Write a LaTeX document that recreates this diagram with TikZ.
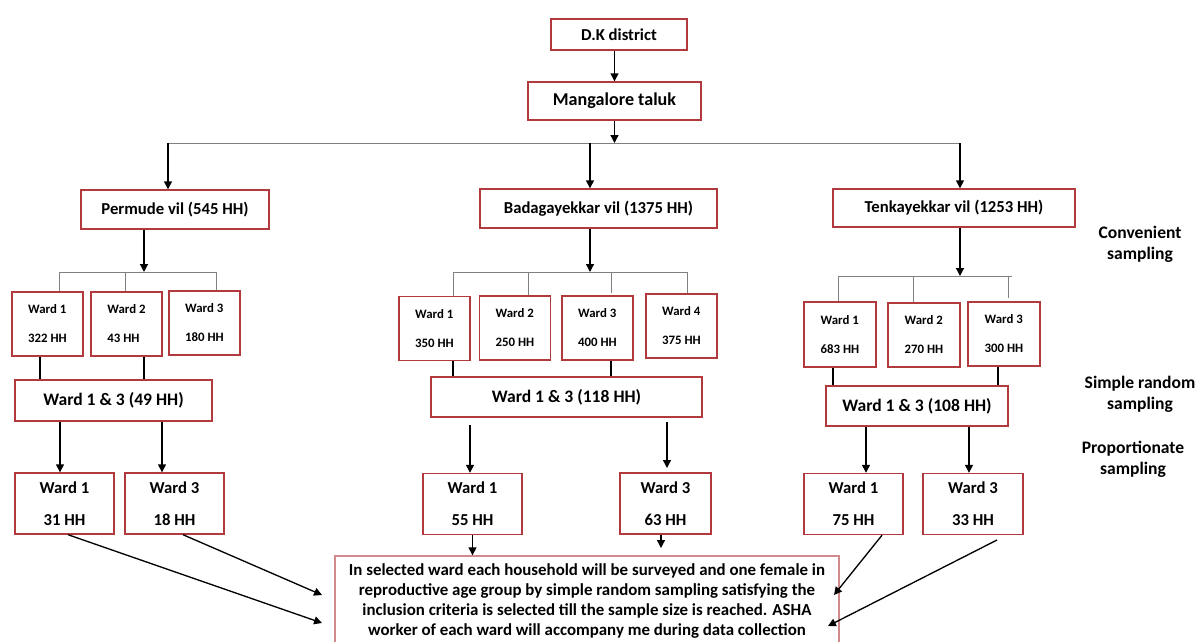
\documentclass[tikz,border=0pt]{standalone}
\usepackage{fontspec}
\setmainfont{Carlito}
\usetikzlibrary{arrows.meta}
\definecolor{boxred}{RGB}{178,58,62}
\begin{document}
\begin{tikzpicture}[x=0.02cm,y=-0.02cm,
  box/.style={draw=boxred,line width=0.8pt,inner sep=0pt,font=\bfseries\fontsize{9.5}{11}\selectfont,align=center},
  wardbox/.style={box,minimum width=1.42cm,minimum height=1.28cm,align=left,font=\bfseries\fontsize{7.3}{8.5}\selectfont},
  pickbox/.style={box,minimum width=1.98cm,minimum height=1.22cm},
  arr/.style={-{Triangle[length=4.5pt,width=4.5pt]},line width=0.75pt},
  bline/.style={line width=0.75pt},
  gline/.style={gray,line width=0.5pt},
  sidelabel/.style={font=\bfseries\fontsize{10}{12}\selectfont,align=center}]
\useasboundingbox (0,0) rectangle (1198,642);
% top
\node[box,minimum width=2.72cm,minimum height=0.62cm] (dk) at (619,34.5) {D.K district};
\node[box,minimum width=3.46cm,minimum height=0.76cm,font=\bfseries\fontsize{10.3}{12}\selectfont] (taluk) at (614.5,101) {Mangalore taluk};
\node[box,minimum width=3.76cm,minimum height=0.78cm] (permude) at (175,209.5) {Permude vil (545 HH)};
\node[box,minimum width=4.74cm,minimum height=0.78cm] (badaga) at (598.5,208.5) {Badagayekkar vil (1375 HH)};
\node[box,minimum width=4.84cm,minimum height=0.76cm] (tenka) at (954,208) {Tenkayekkar vil (1253 HH)};
\coordinate (hl) at (168,143);
\coordinate (hm) at (590,143);
\coordinate (hr) at (960,143);
\draw[arr] (dk.south -| taluk.north) -- (taluk.north);
\draw[arr] (taluk.south) -- (taluk.south |- hm);
\draw[gline] (hl) -- (hr);
\draw[arr] (hl) -- (hl |- permude.north);
\draw[arr] (hm) -- (hm |- badaga.north);
\draw[arr] (hr) -- (hr |- tenka.north);
% Permude
\node[wardbox] (pw1) at (47.5,324) {Ward 1\\[8pt]322 HH};
\node[wardbox] (pw2) at (126.5,324) {Ward 2\\[8pt]43 HH};
\node[wardbox] (pw3) at (204.5,323) {Ward 3\\[8pt]180 HH};
\node[box,minimum width=3.94cm,minimum height=0.82cm,font=\bfseries\fontsize{10}{12}\selectfont] (pm) at (113.5,400.5) {Ward 1 \& 3 (49 HH)};
\node[pickbox] (ps1) at (64.5,503.5) {Ward 1\\[7pt]31 HH};
\node[pickbox] (ps3) at (174.5,503.5) {Ward 3\\[7pt]18 HH};
\coordinate (pb) at (144,272);
\draw[arr] (pb |- permude.south) -- (pb);
\draw[gline] (59,0 |- pw1.north) |- (216,272) -- (216,0 |- pw3.north);
\draw[gline] (125,272) -- (125,0 |- pw2.north);
\draw[bline] (40,0 |- pw1.south) -- (40,0 |- pm.north);
\draw[bline] (144,0 |- pw2.south) -- (144,0 |- pm.north);
\draw[arr] (60,0 |- pm.south) -- (60,0 |- ps1.north);
\draw[arr] (162,0 |- pm.south) -- (162,0 |- ps3.north);
% Badagayekkar
\node[wardbox] (bw1) at (434.5,328.5) {Ward 1\\[8pt]350 HH};
\node[wardbox] (bw2) at (515,328) {Ward 2\\[8pt]250 HH};
\node[wardbox] (bw3) at (597.5,328) {Ward 3\\[8pt]400 HH};
\node[wardbox] (bw4) at (681.5,326) {Ward 4\\[8pt]375 HH};
\node[box,minimum width=5.42cm,minimum height=0.8cm,font=\bfseries\fontsize{10}{12}\selectfont] (bm) at (566.5,397) {Ward 1 \& 3 (118 HH)};
\node[pickbox] (bs1) at (472.5,504) {Ward 1\\[7pt]55 HH};
\node[pickbox,minimum width=1.82cm] (bs3) at (665.5,503.5) {Ward 3\\[7pt]63 HH};
\coordinate (bb) at (590,272);
\draw[arr] (bb |- badaga.south) -- (bb);
\draw[gline] (453,0 |- bw1.north) |- (687,272) -- (687,293);
\draw[gline] (528,272) -- (528,0 |- bw2.north);
\draw[gline] (611,272) -- (611,293);
\draw[bline] (453,0 |- bw1.south) -- (453,0 |- bm.north);
\draw[bline] (611,0 |- bw3.south) -- (611,0 |- bm.north);
\draw[arr] (470,425) -- (470,0 |- bs1.north);
\draw[arr] (667,422) -- (667,468);
% Tenkayekkar
\node[wardbox,minimum width=1.44cm,minimum height=1.3cm] (tw1) at (840,334.5) {Ward 1\\[8pt]683 HH};
\node[wardbox,minimum width=1.44cm] (tw2) at (924,335) {Ward 2\\[8pt]270 HH};
\node[wardbox,minimum width=1.44cm] (tw3) at (1004,334) {Ward 3\\[8pt]300 HH};
\node[box,minimum width=3.64cm,minimum height=0.8cm,font=\bfseries\fontsize{10}{12}\selectfont] (tm) at (917,406) {Ward 1 \& 3 (108 HH)};
\node[pickbox] (ts1) at (853.5,504) {Ward 1\\[7pt]75 HH};
\node[pickbox,minimum width=2cm] (ts3) at (973,504) {Ward 3\\[7pt]33 HH};
\coordinate (tb) at (960,276);
\draw[arr] (tb |- tenka.south) -- (tb);
\draw[gline] (838,0 |- tw1.north) |- (1012,276);
\draw[gline] (1008,276) -- (1008,298);
\draw[gline] (913,276) -- (913,0 |- tw2.north);
\draw[bline] (833,0 |- tw1.south) -- (833,0 |- tm.north);
\draw[bline] (998,0 |- tw3.south) -- (998,0 |- tm.north);
\draw[arr] (866,0 |- tm.south) -- (866,0 |- ts1.north);
\draw[arr] (969,0 |- tm.south) -- (969,0 |- ts3.north);
% bottom
\node[box,minimum width=10.08cm,minimum height=1.8cm,draw=boxred!60,font=\bfseries\fontsize{9.6}{11.4}\selectfont] (final) at (587,601)
  {In selected ward each household will be surveyed and one female in\\
   reproductive age group by simple random sampling satisfying the\\
   inclusion criteria is selected till the sample size is reached. ASHA\\
   worker of each ward will accompany me during data collection};
\coordinate (e1) at (322,623);
\coordinate (e2) at (322,595);
\coordinate (e3) at (834,595);
\coordinate (e4) at (828,626);
\coordinate (e5) at (661,548);
\draw[arr] (68,0 |- ps1.south) -- (e1);
\draw[arr] (183,0 |- ps3.south) -- (e2);
\draw[arr] (bs1.south) -- (bs1.south |- final.north);
\draw[arr] (661,0 |- bs3.south) -- (e5);
\draw[arr] (882,0 |- ts1.south) -- (e3);
\draw[arr] (997,540) -- (e4);
% sampling labels
\node[sidelabel] (conv) at (1140,244) {Convenient\\sampling};
\node[sidelabel] (simple) at (1140,394) {Simple random\\sampling};
\node[sidelabel] (prop) at (1133,459) {Proportionate\\sampling};
\end{tikzpicture}
\end{document}
